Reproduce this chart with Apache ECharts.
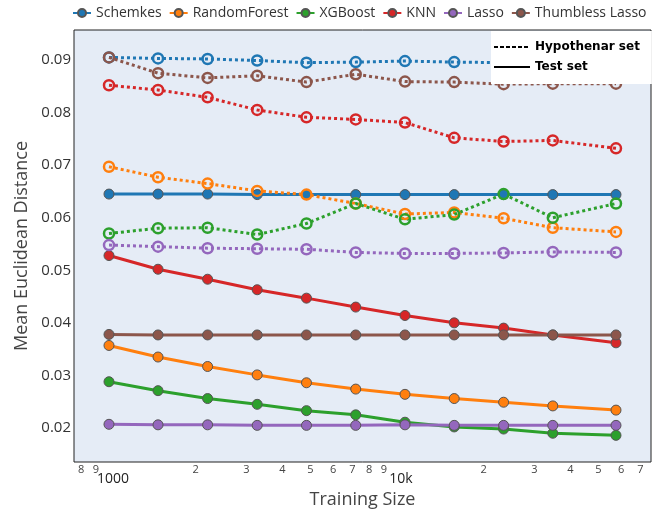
<!DOCTYPE html>
<html>
<head>
<meta charset="utf-8">
<script src="https://cdn.jsdelivr.net/npm/echarts@6/dist/echarts.min.js"></script>
<style>html,body{margin:0;padding:0;background:#fff}#c{width:665px;height:517px}</style>
</head>
<body>
<div id="c"></div>
<script>
const sizes = [1000, 1480, 2200, 3270, 4850, 7190, 10660, 15800, 23450, 34750, 57600];
const models = ['Schemkes', 'RandomForest', 'XGBoost', 'KNN', 'Lasso', 'Thumbless Lasso'];
const colors = ['#1f77b4', '#ff7f0e', '#2ca02c', '#d62728', '#9467bd', '#8c564b'];

const schemkesTest = [0.0645,0.0645,0.0645,0.0644,0.0644,0.0644,0.0644,0.0644,0.0644,0.0644,0.0644];
const rfTest       = [0.0357,0.0335,0.0317,0.0301,0.0286,0.0274,0.0264,0.0256,0.0249,0.0242,0.0234];
const xgbTest      = [0.0288,0.0271,0.0256,0.0245,0.0233,0.0225,0.0211,0.0202,0.0198,0.0190,0.0186];
const knnTest      = [0.0528,0.0502,0.0483,0.0463,0.0447,0.0430,0.0414,0.0400,0.0390,0.0377,0.0362];
const lassoTest    = [0.0207,0.0206,0.0206,0.0205,0.0205,0.0205,0.0206,0.0205,0.0205,0.0205,0.0205];
const thumbTest    = [0.0378,0.0377,0.0377,0.0377,0.0377,0.0377,0.0377,0.0377,0.0377,0.0377,0.0377];

const schemkesHyp = [0.0905,0.0903,0.0902,0.0899,0.0895,0.0896,0.0898,0.0896,0.0895,0.0895,0.0895];
const rfHyp       = [0.0697,0.0677,0.0665,0.0651,0.0644,0.0627,0.0607,0.0610,0.0599,0.0581,0.0573];
const xgbHyp      = [0.0570,0.0580,0.0581,0.0568,0.0589,0.0627,0.0597,0.0606,0.0645,0.0600,0.0627];
const knnHyp      = [0.0852,0.0843,0.0829,0.0805,0.0791,0.0787,0.0781,0.0752,0.0745,0.0747,0.0732];
const lassoHyp    = [0.0548,0.0545,0.0542,0.0541,0.0540,0.0534,0.0532,0.0532,0.0533,0.0535,0.0534];
const thumbHyp    = [0.0905,0.0875,0.0866,0.0870,0.0858,0.0873,0.0859,0.0858,0.0854,0.0855,0.0855];

const xTicks = [800,900,1000,2000,3000,4000,5000,6000,7000,8000,9000,10000,20000,30000,40000,50000,60000,70000];
const yTicks = [0.02,0.03,0.04,0.05,0.06,0.07,0.08,0.09];
const xRange = [756, 76200];
const yRange = [0.01353, 0.09571];

const testSets = [schemkesTest, rfTest, xgbTest, knnTest, lassoTest, thumbTest];
const hypSets = [schemkesHyp, rfHyp, xgbHyp, knnHyp, lassoHyp, thumbHyp];

const toPts = arr => arr.map((v, i) => [Math.log10(sizes[i]), v]);

const series = [];
models.forEach((m, i) => {
  series.push({
    name: m, type: 'line', data: toPts(testSets[i]),
    color: colors[i], symbol: 'circle', symbolSize: 10,
    lineStyle: { width: 3, color: colors[i] },
    itemStyle: { color: colors[i], borderColor: '#555', borderWidth: 1 },
    animation: false
  });
});
models.forEach((m, i) => {
  series.push({
    name: m, type: 'line', data: toPts(hypSets[i]),
    color: colors[i], symbol: 'circle', symbolSize: 10,
    lineStyle: { width: 3, color: colors[i], type: [3, 3] },
    itemStyle: { color: 'rgba(0,0,0,0)', borderColor: colors[i], borderWidth: 2.5 },
    animation: false
  });
});
series.push({ name: 'Hypothenar set', type: 'line', data: [], symbol: 'none', color: '#000',
  lineStyle: { width: 4, color: '#000', type: [4, 2] } });
series.push({ name: 'Test set', type: 'line', data: [], symbol: 'none', color: '#000',
  lineStyle: { width: 4, color: '#000' } });

const chart = echarts.init(document.getElementById('c'));
chart.setOption({
  animation: false,
  textStyle: { fontFamily: 'Open Sans' },
  grid: { left: 74, right: 14, top: 30, bottom: 55, show: true,
    backgroundColor: '#E5ECF6', borderColor: '#222', borderWidth: 1 },
  legend: [
    { data: models, left: 72, top: 6, width: 640, itemWidth: 18, itemHeight: 10, itemGap: 7,
      padding: 0,
      textStyle: { fontSize: 14, color: '#333', fontFamily: 'Open Sans' } },
    { data: ['Hypothenar set', 'Test set'], orient: 'vertical', left: 491, top: 31,
      width: 160, itemWidth: 36, itemHeight: 10, itemGap: 8,
      itemStyle: { opacity: 0 },
      backgroundColor: '#fff', padding: [10, 12, 11, 2],
      textStyle: { fontSize: 12, fontWeight: 'bold', color: '#000', fontFamily: 'DejaVu Sans' } }
  ],
  xAxis: {
    type: 'value', min: Math.log10(xRange[0]), max: Math.log10(xRange[1]),
    name: 'Training Size', nameLocation: 'middle', nameGap: 27,
    nameTextStyle: { fontSize: 18, color: '#444', fontFamily: 'Open Sans' },
    axisLine: { show: false }, axisTick: { show: false }, splitLine: { show: false },
    axisLabel: {
      customValues: xTicks.map(v => Math.log10(v)),
      margin: 2, color: '#444',
      formatter: v => {
        const n = Math.round(Math.pow(10, v));
        if (n === 1000) return '{M|1000}';
        if (n === 10000) return '{M|10k}';
        return '{m|' + String(n)[0] + '}';
      },
      rich: {
        m: { fontSize: 11, color: '#444', fontFamily: 'Open Sans' },
        M: { fontSize: 14, color: '#222', fontFamily: 'Open Sans', padding: [8, 0, 0, 8] }
      }
    }
  },
  yAxis: {
    type: 'value', min: yRange[0], max: yRange[1],
    name: 'Mean Euclidean Distance', nameLocation: 'middle', nameGap: 35,
    nameTextStyle: { fontSize: 18, color: '#444', fontFamily: 'Open Sans' },
    axisLine: { show: false }, axisTick: { show: false }, splitLine: { show: false },
    axisLabel: {
      customValues: yTicks, margin: 3, fontSize: 15, color: '#333',
      formatter: v => v.toFixed(2)
    }
  },
  series: series
});
</script>
</body>
</html>
